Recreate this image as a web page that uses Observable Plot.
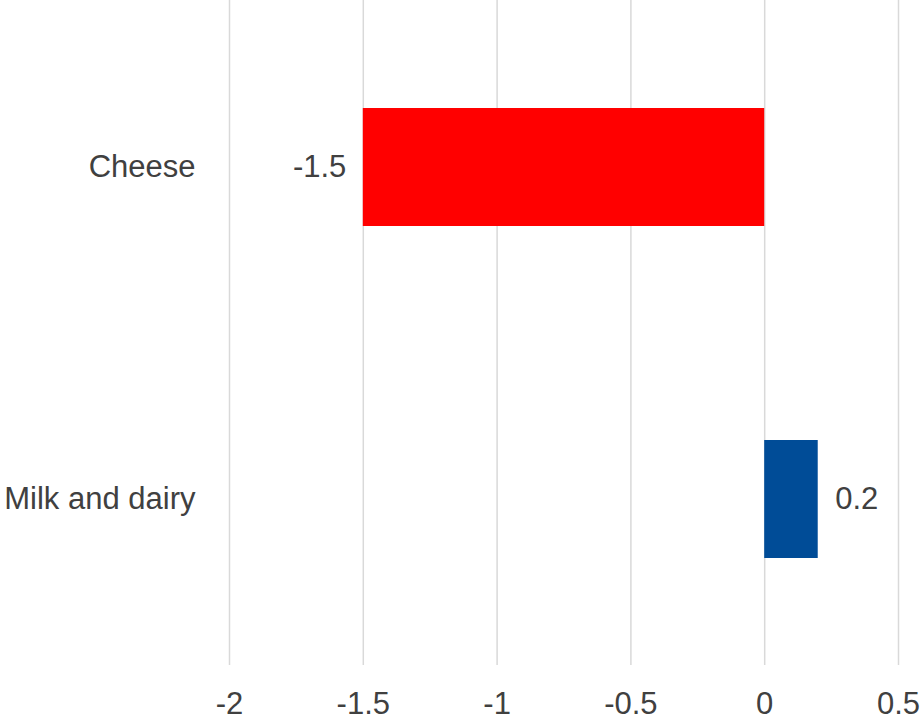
<!DOCTYPE html>
<html>
<head>
<meta charset="utf-8">
<script src="https://cdn.jsdelivr.net/npm/d3@7"></script>
<script src="https://cdn.jsdelivr.net/npm/@observablehq/plot@0.6"></script>
<style>
  html, body { margin: 0; padding: 0; background: #fff; }
  #chart { width: 922px; height: 721px; }
</style>
</head>
<body>
<div id="chart"></div>
<script>
const categories = ["Cheese", "Milk and dairy"];
const values = [-1.5, 0.2];
const xTicks = [-2, -1.5, -1, -0.5, 0, 0.5];

const data = categories.map((c, i) => ({category: c, value: values[i], sign: values[i] < 0 ? "neg" : "pos"}));
const fmt = d => String(d);
const FS = 31;

const chart = Plot.plot({
  width: 922,
  height: 721,
  marginTop: 0,
  marginBottom: 56,
  marginLeft: 229,
  marginRight: 24,
  style: {fontFamily: "'Liberation Sans', Arial, sans-serif", fontSize: FS + "px", color: "#404040", background: "#fff"},
  x: {domain: [-2, 0.5], ticks: xTicks, tickFormat: fmt, label: null},
  y: {domain: categories, paddingInner: 0.645, paddingOuter: 0.3225, label: null},
  color: {domain: ["neg", "pos"], range: ["#ff0000", "#004c97"]},
  marks: [
    Plot.gridX(xTicks, {stroke: "#d9d9d9", strokeOpacity: 1, strokeWidth: 1.5}),
    Plot.barX(data, {x: "value", y: "category", fill: "sign"}),
    Plot.text(data.filter(d => d.value < 0), {
      x: "value", y: "category", text: d => fmt(d.value),
      textAnchor: "end", dx: -17, fill: "#404040", fontSize: FS
    }),
    Plot.text(data.filter(d => d.value >= 0), {
      x: "value", y: "category", text: d => fmt(d.value),
      textAnchor: "start", dx: 17, fill: "#404040", fontSize: FS
    }),
    Plot.axisX(xTicks, {tickSize: 0, tickPadding: 26, tickFormat: fmt, fill: "#404040", fontSize: FS, label: null}),
    Plot.axisY({tickSize: 0, tickPadding: 34, fill: "#404040", fontSize: FS, label: null})
  ]
});
document.getElementById("chart").appendChild(chart);
</script>
</body>
</html>
